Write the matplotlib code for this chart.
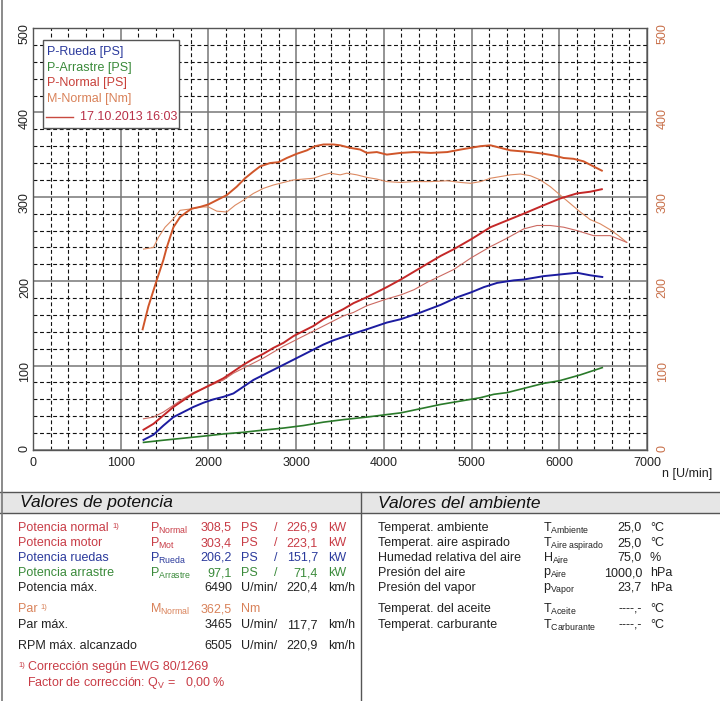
import matplotlib
matplotlib.use("Agg")
import matplotlib.pyplot as plt
from matplotlib.ticker import MultipleLocator
from matplotlib.lines import Line2D
from matplotlib.patches import Rectangle

plt.rcParams["font.family"] = ["Liberation Sans", "DejaVu Sans"]
plt.rcParams["mathtext.fontset"] = "custom"
plt.rcParams["mathtext.rm"] = "Liberation Sans"
plt.rcParams["mathtext.it"] = "Liberation Sans:italic"

# --- curves (rpm -> PS / Nm) ---
m_normal_rpm = [1250, 1315, 1410, 1486, 1525, 1601, 1677, 1753, 1810, 1905,
                2000, 2095, 2209, 2323, 2418, 2513, 2589, 2703, 2798, 2894,
                3008, 3122, 3217, 3312, 3426, 3502, 3616, 3730, 3806, 3920,
                4034, 4193, 4345, 4534, 4723, 4875, 4989, 5102, 5216, 5330,
                5443, 5557, 5670, 5822, 5936, 6049, 6163, 6277, 6390, 6485]
m_normal = [143, 170, 201, 225, 240, 264, 276, 282, 286, 288,
            291, 296, 302, 312, 322, 330, 336, 340, 341, 346,
            351, 355, 360, 362, 362, 361, 358, 356, 352, 353,
            350, 352, 353, 352, 353, 356, 358, 360, 361, 358,
            355, 354, 353, 351, 349, 346, 345, 342, 336, 331]

m_ref_rpm = [1260, 1373, 1430, 1506, 1601, 1677, 1753, 1829, 1905, 2000,
             2095, 2209, 2304, 2399, 2513, 2627, 2741, 2856, 2970, 3084,
             3198, 3312, 3388, 3502, 3578, 3692, 3806, 3920, 4034, 4193,
             4345, 4534, 4723, 4875, 4989, 5102, 5216, 5330, 5443, 5557,
             5670, 5784, 5898, 6011, 6125, 6239, 6352, 6466, 6580, 6674, 6769]
m_ref = [238, 240, 252, 264, 274, 284, 285, 286, 288, 288,
         283, 282, 290, 296, 304, 310, 314, 317, 320, 321,
         322, 326, 328, 326, 328, 326, 323, 321, 318, 317,
         318, 318, 319, 317, 316, 318, 322, 324, 326, 327,
         325, 320, 312, 302, 292, 282, 273, 268, 261, 254, 246]

p_normal_rpm = [1260, 1373, 1487, 1601, 1715, 1829, 1943, 2057, 2171, 2285,
                2399, 2513, 2627, 2741, 2856, 2970, 3084, 3198, 3312, 3426,
                3540, 3654, 3806, 3920, 4034, 4193, 4420, 4648, 4799, 5000,
                5216, 5405, 5595, 5822, 6011, 6201, 6352, 6485]
p_normal = [24, 31, 41, 51, 59, 67, 73, 79, 85, 93,
            101, 108, 114, 121, 127, 135, 141, 147, 155, 161,
            167, 174, 181, 187, 193, 202, 216, 230, 238, 250,
            264, 272, 280, 290, 298, 304, 306, 309]

p_ref_rpm = [1260, 1373, 1487, 1601, 1715, 1829, 1943, 2057, 2171, 2285,
             2399, 2513, 2627, 2741, 2856, 2970, 3084, 3198, 3312, 3426,
             3540, 3654, 3806, 3920, 4034, 4200, 4345, 4500, 4799, 5000,
             5216, 5405, 5595, 5746, 5898, 6049, 6201, 6390, 6580, 6769]
p_ref = [37, 39, 45, 53, 61, 68, 73, 78, 83, 91,
         97, 103, 109, 116, 123, 129, 135, 141, 147, 153,
         159, 163, 171, 175, 179, 184, 190, 199, 214, 228,
         241, 251, 262, 266, 266, 264, 260, 254, 254, 246]

p_rueda_rpm = [1260, 1373, 1487, 1601, 1715, 1829, 1943, 2057, 2171, 2285,
               2399, 2513, 2627, 2741, 2856, 2970, 3084, 3198, 3312, 3426,
               3540, 3654, 3806, 3920, 4034, 4193, 4420, 4648, 4837, 5000,
               5140, 5292, 5481, 5595, 5822, 6011, 6201, 6352, 6490]
p_rueda = [12, 18, 29, 39, 45, 51, 56, 60, 63, 67,
           75, 83, 89, 95, 101, 107, 113, 119, 125, 130,
           134, 138, 143, 147, 151, 155, 163, 172, 181, 187,
           193, 198, 201, 202, 206, 208, 210, 207, 205]

p_arrastre_rpm = [1260, 1487, 1715, 1943, 2171, 2399, 2627, 2856, 3084, 3312,
                  3540, 3806, 4034, 4193, 4420, 4648, 4875, 4989, 5102, 5254,
                  5405, 5595, 5822, 6000, 6239, 6490]
p_arrastre = [9, 11.6, 14, 16.4, 19, 21, 23.6, 26, 29, 33,
              36, 39, 42, 44, 49, 54, 58, 60, 62, 66,
              68, 73, 79, 82, 89, 97.6]

x_ticks = [0, 1000, 2000, 3000, 4000, 5000, 6000, 7000]
y_ticks = [0, 100, 200, 300, 400, 500]

legend_items = ["P-Rueda [PS]", "P-Arrastre [PS]", "P-Normal [PS]", "M-Normal [Nm]"]
legend_colors = ["#2b3a9c", "#3a8a3a", "#c8403a", "#d9825a"]
run_label = "17.10.2013 16:03"

# --- table contents ---
pot_rows = [
    ("Potencia normal", True, "Normal", "308,5", "PS", "226,9", "kW", "#c83c46"),
    ("Potencia motor", False, "Mot", "303,4", "PS", "223,1", "kW", "#c83c46"),
    ("Potencia ruedas", False, "Rueda", "206,2", "PS", "151,7", "kW", "#2b3a9c"),
    ("Potencia arrastre", False, "Arrastre", "97,1", "PS", "71,4", "kW", "#3a8a3a"),
    ("Potencia máx.", False, None, "6490", "U/min/", "220,4", "km/h", "#222222"),
]
par_rows = [
    ("Par", True, "M", "Normal", "362,5", "Nm", None, None, "#d9825a"),
    ("Par máx.", False, None, None, "3465", "U/min/", "117,7", "km/h", "#222222"),
    ("RPM máx. alcanzado", False, None, None, "6505", "U/min/", "220,9", "km/h", "#222222"),
]
amb_labels = ["Temperat. ambiente", "Temperat. aire aspirado", "Humedad relativa del aire",
              "Presión del aire", "Presión del vapor", "Temperat. del aceite",
              "Temperat. carburante"]
amb_sym = [("T", "Ambiente"), ("T", "Aire\\ aspirado"), ("H", "Aire"), ("p", "Aire"),
           ("p", "Vapor"), ("T", "Aceite"), ("T", "Carburante")]
amb_values = ["25,0", "25,0", "75,0", "1000,0", "23,7", "----,-", "----,-"]
amb_units = ["°C", "°C", "%", "hPa", "hPa", "°C", "°C"]

W, H = 720, 701


def fx(x):
    return x / W


def fy(y):
    return 1 - y / H


fig = plt.figure(figsize=(W / 100, H / 100), dpi=100)
ax = fig.add_axes([fx(33), fy(450), (647 - 33) / W, (450 - 28) / H])

ax.plot(m_normal_rpm, m_normal, color="#d0562a", lw=1.4, zorder=4)
ax.plot(m_ref_rpm, m_ref, color="#dc8a62", lw=0.8, zorder=3)
ax.plot(p_normal_rpm, p_normal, color="#c42828", lw=1.4, zorder=4)
ax.plot(p_ref_rpm, p_ref, color="#cc6a62", lw=0.8, zorder=3)
ax.plot(p_rueda_rpm, p_rueda, color="#1c1ca0", lw=1.4, zorder=4)
ax.plot(p_arrastre_rpm, p_arrastre, color="#2a7a2a", lw=1.2, zorder=4)

ax.set_xlim(0, 7000)
ax.set_ylim(0, 500)
ax.set_xticks(x_ticks)
ax.set_yticks(y_ticks)
ax.xaxis.set_minor_locator(MultipleLocator(200))
ax.yaxis.set_minor_locator(MultipleLocator(20))
ax.grid(which="major", color="#777777", lw=1.1, ls="-", zorder=1)
ax.grid(which="minor", color="#111111", lw=0.8, ls=(0, (3.5, 2.4)), zorder=1)
ax.tick_params(which="both", length=0)
ax.tick_params(axis="x", labelsize=9, pad=5, labelcolor="#222222")
ax.tick_params(axis="y", labelsize=9, pad=1.5, labelrotation=90, labelcolor="#222222")
for s in ax.spines.values():
    s.set_color("#555555")
    s.set_linewidth(1.0)

ax2 = ax.twinx()
ax2.set_ylim(0, 500)
ax2.set_yticks(y_ticks)
ax2.tick_params(length=0, labelsize=9, pad=7, labelrotation=90, labelcolor="#c8704a")
for s in ax2.spines.values():
    s.set_visible(False)

# legend box
ax.add_patch(Rectangle((0.0163, 0.763), 0.2215, 0.2086, transform=ax.transAxes,
                       facecolor="white", edgecolor="#555555", lw=1.0, zorder=6))
leg_y = [0.943, 0.905, 0.869, 0.831]
for lbl, col, yy in zip(legend_items, legend_colors, leg_y):
    ax.text(0.0228, yy, lbl, color=col, fontsize=9, va="center", transform=ax.transAxes, zorder=7)
ax.add_line(Line2D([0.021, 0.065], [0.789, 0.789], color="#c84a40", lw=1.0,
                   transform=ax.transAxes, zorder=7))
ax.text(0.0765, 0.789, run_label, color="#b83048", fontsize=9, va="center",
        transform=ax.transAxes, zorder=7)

fig.text(fx(712), fy(474), "n [U/min]", fontsize=9, ha="right", va="center", color="#222222")

# frame lines and header band of the value table
fig.add_artist(Rectangle((0, fy(513)), 1, (513 - 492) / H, transform=fig.transFigure,
                         facecolor="#e6e6e6", edgecolor="none"))
for yy in (492, 513):
    fig.add_artist(Line2D([0, 1], [fy(yy), fy(yy)], color="#555555", lw=1.0))
fig.add_artist(Line2D([fx(361), fx(361)], [fy(492), 0], color="#555555", lw=1.0))
fig.add_artist(Line2D([fx(1.5), fx(1.5)], [1, 0], color="#777777", lw=1.2))

fig.text(fx(20), fy(503), "Valores de potencia", fontsize=12.5, style="italic",
         va="center", color="#111111")
fig.text(fx(378), fy(503), "Valores del ambiente", fontsize=12.5, style="italic",
         va="center", color="#111111")

fs = 9


def note_mark(x, y, col):
    # small "1)" footnote marker
    fig.text(fx(x), fy(y - 1.5), "1)", fontsize=5.5, color=col, va="center")


pot_y = [528, 543, 558, 573, 588]
for (lbl, note, sub, v1, u1, v2, u2, col), yy in zip(pot_rows, pot_y):
    t = fig.text(fx(18), fy(yy), lbl, fontsize=fs, color=col, va="center")
    if note:
        note_mark(112, yy, col)
    if sub:
        fig.text(fx(150), fy(yy), r"$\mathrm{P}_{\mathrm{%s}}$" % sub, fontsize=fs, color=col, va="center")
    fig.text(fx(232), fy(yy), v1, fontsize=fs, color=col, va="center", ha="right")
    fig.text(fx(241), fy(yy), u1, fontsize=fs, color=col, va="center")
    if u1 == "PS":
        fig.text(fx(276), fy(yy), "/", fontsize=fs, color=col, va="center", ha="center")
    fig.text(fx(318), fy(yy), v2, fontsize=fs, color=col, va="center", ha="right")
    fig.text(fx(328), fy(yy), u2, fontsize=fs, color=col, va="center")

par_y = [609, 625, 646]
for (lbl, note, sym, sub, v1, u1, v2, u2, col), yy in zip(par_rows, par_y):
    fig.text(fx(18), fy(yy), lbl, fontsize=fs, color=col, va="center")
    if note:
        note_mark(40, yy, col)
    if sym:
        fig.text(fx(150), fy(yy), r"$\mathrm{%s}_{\mathrm{%s}}$" % (sym, sub), fontsize=fs,
                 color=col, va="center")
    fig.text(fx(232), fy(yy), v1, fontsize=fs, color=col, va="center", ha="right")
    fig.text(fx(241), fy(yy), u1, fontsize=fs, color=col, va="center")
    if v2:
        fig.text(fx(318), fy(yy), v2, fontsize=fs, color=col, va="center", ha="right")
        fig.text(fx(328), fy(yy), u2, fontsize=fs, color=col, va="center")

note_mark(18, 667, "#c83c46")
fig.text(fx(28), fy(667), "Corrección según EWG 80/1269", fontsize=fs,
         color="#c83c46", va="center")
fig.text(fx(27), fy(683), r"Factor de corrección: $\mathrm{Q}_{\mathrm{V}}$ =   0,00 %",
         fontsize=fs, color="#c83c46", va="center")

amb_y = [528, 543, 558, 573, 588, 609, 625]
for lbl, (sym, sub), val, unit, yy in zip(amb_labels, amb_sym, amb_values, amb_units, amb_y):
    fig.text(fx(378), fy(yy), lbl, fontsize=fs, color="#222222", va="center")
    fig.text(fx(543), fy(yy), r"$\mathrm{%s}_{\mathrm{%s}}$" % (sym, sub), fontsize=fs,
             color="#222222", va="center")
    fig.text(fx(642), fy(yy), val, fontsize=fs, color="#222222", va="center", ha="right")
    fig.text(fx(650), fy(yy), unit, fontsize=fs, color="#222222", va="center")

fig.savefig("out.png", dpi=100)
